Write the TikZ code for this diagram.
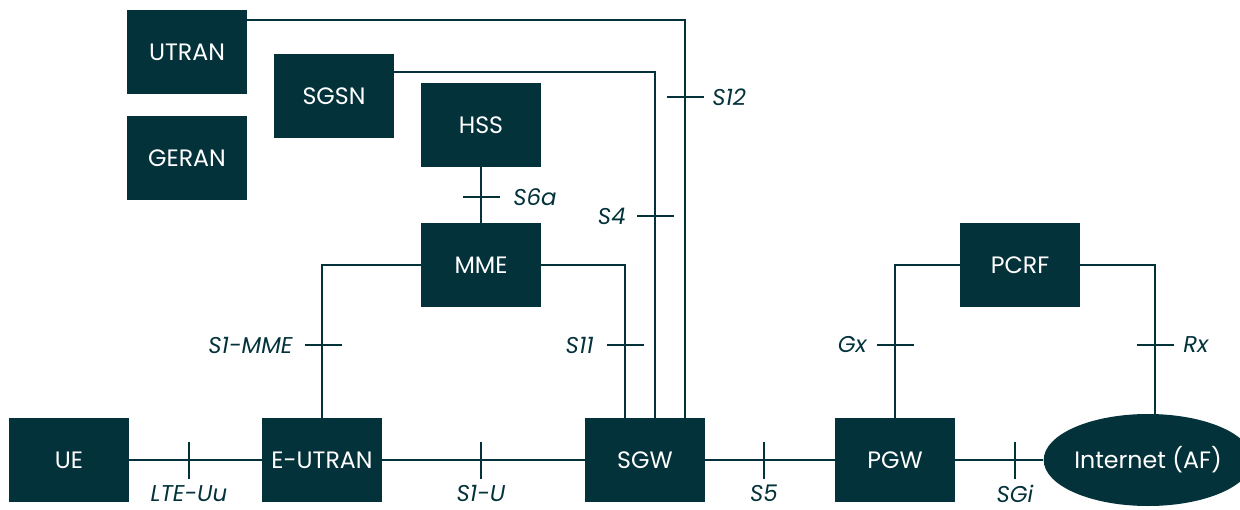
\documentclass[tikz,border=0pt]{standalone}
\usepackage{fontspec}
\setmainfont{Poppins}
\usetikzlibrary{shapes.geometric}
\definecolor{teal}{HTML}{03323A}
\tikzset{
  box/.style={fill=teal, text=white, minimum width=120*0.02cm, minimum height=84*0.02cm, inner sep=0pt, font=\fontsize{13.5}{15}\selectfont},
  conn/.style={draw=teal, line width=1.4pt},
  tick/.style={draw=teal, line width=1.4pt},
  lbl/.style={text=teal, font=\fontsize{13}{15}\selectfont\itshape, inner sep=0pt}
}
\begin{document}
\begin{tikzpicture}[x=0.02cm,y=-0.02cm]
\useasboundingbox (0,0) rectangle (1240,510);
\node[box] (utran) at (187,52) {UTRAN};
\node[box] (sgsn) at (334,96) {SGSN};
\node[box] (geran) at (187,158) {GERAN};
\node[box] (hss) at (481,125) {HSS};
\node[box] (mme) at (481,265) {MME};
\node[box] (pcrf) at (1020,265) {PCRF};
\node[box] (ue) at (69,460) {UE};
\node[box] (eutran) at (322,460) {E-UTRAN};
\node[box] (sgw) at (645,460) {SGW};
\node[box] (pgw) at (895,460) {PGW};
\node[ellipse, fill=teal, text=white, minimum width=170*0.02cm, minimum height=92*0.02cm, inner sep=0pt, font=\fontsize{13.5}{15}\selectfont] (inet) at (1148,460) {Internet (AF)};

% connectors
\draw[conn] (ue) -- (eutran);
\draw[conn] (eutran) -- (sgw);
\draw[conn] (sgw) -- (pgw);
\draw[conn] (pgw) -- (inet);
\draw[conn] (hss) -- (mme);
\draw[conn] (mme.west) -| (eutran.north);
\draw[conn] (mme.east) -| ([xshift=-20*0.02cm]sgw.north);
\draw[conn] (sgsn.east |- 0,72) -| ([xshift=10*0.02cm]sgw.north);
\draw[conn] (utran.east |- 0,20) -| ([xshift=40*0.02cm]sgw.north);
\draw[conn] (pcrf.west) -| (pgw.north);
\draw[conn] (pcrf.east) -| ([xshift=7*0.02cm]inet.north);

% ticks and labels
\draw[tick] (189,442) -- (189,479);
\node[lbl, anchor=north] (l1) at (189,485) {LTE-Uu};
\draw[tick] (481,442) -- (481,479);
\node[lbl, anchor=north] (l2) at (481,485) {S1-U};
\draw[tick] (764,442) -- (764,479);
\node[lbl, anchor=north] (l3) at (764,485) {S5};
\draw[tick] (1015,442) -- (1015,479);
\node[lbl, anchor=north] (l4) at (1015,485) {SGi};

\draw[tick] (305,345) -- (342,345);
\node[lbl, anchor=east] (l5) at (293,345) {S1-MME};
\draw[tick] (607,345) -- (644,345);
\node[lbl, anchor=east] (l6) at (594,345) {S11};
\draw[tick] (637,216) -- (674,216);
\node[lbl, anchor=east] (l7) at (626,216) {S4};
\draw[tick] (667,97) -- (704,97);
\node[lbl, anchor=west] (l8) at (712,97) {S12};
\draw[tick] (463,197) -- (500,197);
\node[lbl, anchor=west] (l9) at (513,197) {S6a};
\draw[tick] (877,345) -- (914,345);
\node[lbl, anchor=east] (l10) at (867,345) {Gx};
\draw[tick] (1137,345) -- (1174,345);
\node[lbl, anchor=west] (l11) at (1183,345) {Rx};
\end{tikzpicture}
\end{document}
